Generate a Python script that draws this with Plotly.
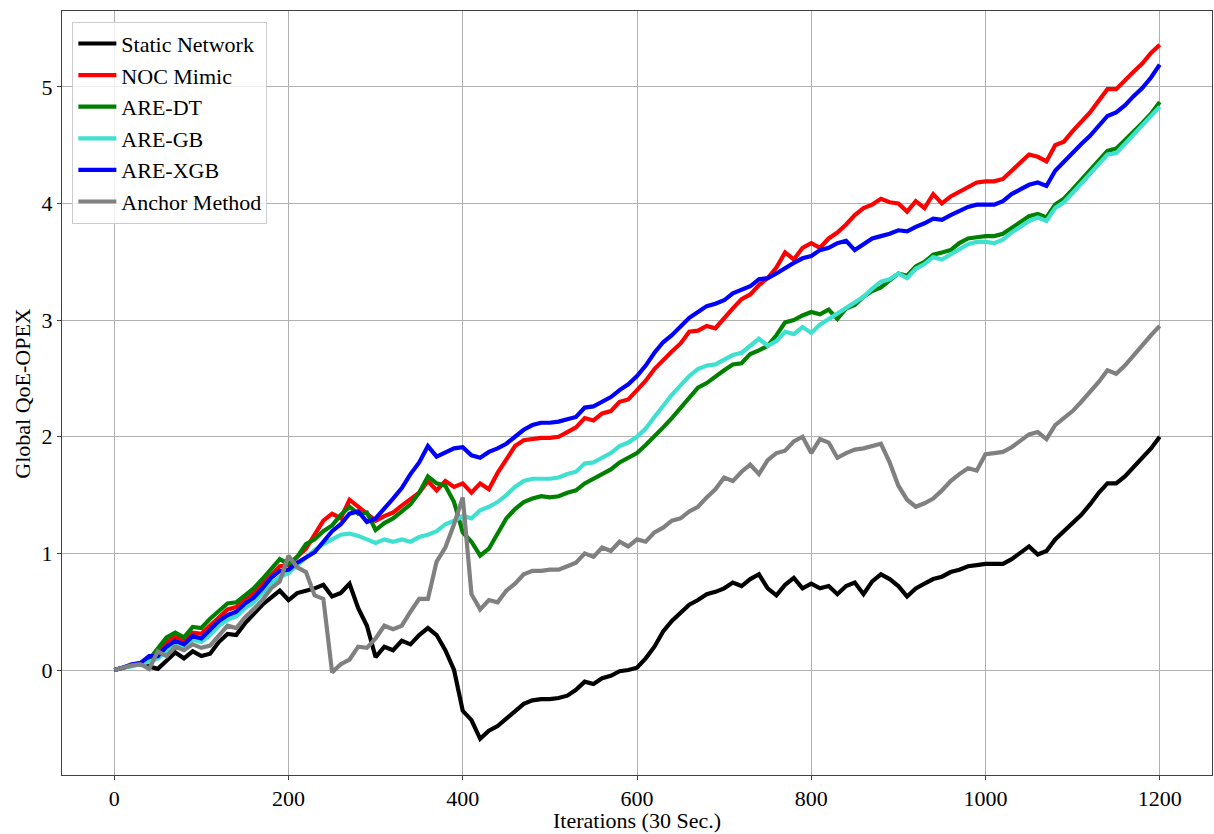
import plotly.graph_objects as go

iterations = list(range(0, 1201, 10))

static_network = [
    0, 0.02, 0.04, 0.05, 0.03, 0.01, 0.08, 0.15, 0.10, 0.16,
    0.12, 0.14, 0.24, 0.31, 0.30, 0.40, 0.48, 0.56, 0.62, 0.68,
    0.60, 0.66, 0.68, 0.70, 0.73, 0.63, 0.66, 0.74, 0.53, 0.38,
    0.11, 0.20, 0.17, 0.25, 0.22, 0.30, 0.36, 0.30, 0.17, 0.00,
    -0.35, -0.43, -0.59, -0.52, -0.48, -0.42, -0.35, -0.29, -0.26, -0.25,
    -0.25, -0.24, -0.22, -0.17, -0.10, -0.12, -0.07, -0.05, -0.01, 0.00,
    0.02, 0.10, 0.20, 0.33, 0.42, 0.49, 0.56, 0.60, 0.65, 0.67,
    0.70, 0.75, 0.72, 0.78, 0.82, 0.70, 0.64, 0.73, 0.79, 0.70,
    0.74, 0.70, 0.72, 0.65, 0.72, 0.75, 0.65, 0.76, 0.82, 0.78,
    0.72, 0.63, 0.70, 0.74, 0.78, 0.80, 0.84, 0.86, 0.89, 0.90,
    0.91, 0.91, 0.91, 0.95, 1.00, 1.06, 0.99, 1.02, 1.12, 1.19,
    1.25, 1.33, 1.42, 1.52, 1.60, 1.60, 1.66, 1.74, 1.82, 1.90,
    2.00,
]

noc_mimic = [
    0, 0.02, 0.04, 0.06, 0.09, 0.14, 0.24, 0.29, 0.25, 0.32,
    0.31, 0.38, 0.45, 0.52, 0.54, 0.61, 0.66, 0.74, 0.82, 0.89,
    0.90, 0.97, 1.04, 1.16, 1.28, 1.34, 1.30, 1.46, 1.40, 1.35,
    1.28, 1.32, 1.35, 1.41, 1.46, 1.52, 1.62, 1.54, 1.62, 1.57,
    1.60, 1.52, 1.60, 1.55, 1.69, 1.80, 1.92, 1.97, 1.98, 1.99,
    1.99, 2.00, 2.04, 2.08, 2.16, 2.14, 2.20, 2.22, 2.30, 2.32,
    2.40, 2.48, 2.58, 2.66, 2.73, 2.80, 2.90, 2.91, 2.95, 2.93,
    3.02, 3.10, 3.18, 3.22, 3.30, 3.36, 3.45, 3.58, 3.52, 3.62,
    3.66, 3.62, 3.70, 3.75, 3.82, 3.90, 3.96, 3.99, 4.04, 4.01,
    4.00, 3.93, 4.02, 3.96, 4.08, 4.00, 4.06, 4.10, 4.15, 4.18,
    4.19, 4.19, 4.21, 4.28, 4.34, 4.42, 4.40, 4.36, 4.50, 4.53,
    4.62, 4.70, 4.78, 4.88, 4.98, 4.98, 5.06, 5.13, 5.20, 5.29,
    5.36,
]

are_dt = [
    0, 0.02, 0.04, 0.06, 0.09, 0.18, 0.28, 0.32, 0.28, 0.37,
    0.36, 0.44, 0.50, 0.57, 0.58, 0.64, 0.70, 0.78, 0.87, 0.95,
    0.91, 0.97, 1.08, 1.12, 1.19, 1.24, 1.33, 1.40, 1.34, 1.35,
    1.20, 1.26, 1.30, 1.36, 1.42, 1.52, 1.66, 1.60, 1.58, 1.44,
    1.18, 1.10, 0.98, 1.04, 1.17, 1.30, 1.38, 1.44, 1.47, 1.49,
    1.48, 1.49, 1.52, 1.54, 1.60, 1.64, 1.68, 1.72, 1.78, 1.82,
    1.86, 1.93, 2.00, 2.08, 2.16, 2.25, 2.34, 2.42, 2.46, 2.52,
    2.57, 2.62, 2.63, 2.71, 2.74, 2.78, 2.87, 2.98, 3.00, 3.04,
    3.07, 3.05, 3.09, 3.01, 3.10, 3.13, 3.20, 3.25, 3.28, 3.34,
    3.40, 3.38, 3.46, 3.50, 3.56, 3.58, 3.60, 3.66, 3.70, 3.71,
    3.72, 3.72, 3.74, 3.79, 3.84, 3.89, 3.91, 3.88, 3.99, 4.04,
    4.12, 4.20, 4.29, 4.37, 4.45, 4.47, 4.54, 4.62, 4.69, 4.77,
    4.87,
]

are_gb = [
    0, 0.02, 0.03, 0.05, 0.07, 0.10, 0.16, 0.22, 0.20, 0.26,
    0.24, 0.30, 0.38, 0.43, 0.46, 0.53, 0.58, 0.66, 0.74, 0.80,
    0.83, 0.90, 0.97, 1.03, 1.08, 1.12, 1.16, 1.17, 1.15, 1.12,
    1.09, 1.12, 1.10, 1.12, 1.10, 1.14, 1.16, 1.19, 1.25, 1.28,
    1.32, 1.30, 1.37, 1.40, 1.44, 1.50, 1.57, 1.62, 1.64, 1.64,
    1.64, 1.65, 1.68, 1.70, 1.77, 1.78, 1.82, 1.86, 1.92, 1.95,
    2.00, 2.07, 2.17, 2.27, 2.36, 2.44, 2.52, 2.58, 2.61, 2.62,
    2.66, 2.70, 2.72, 2.78, 2.84, 2.78, 2.82, 2.90, 2.88, 2.94,
    2.89, 2.96, 3.01, 3.06, 3.10, 3.16, 3.20, 3.27, 3.33, 3.35,
    3.40, 3.36, 3.44, 3.48, 3.54, 3.52, 3.56, 3.61, 3.65, 3.67,
    3.67, 3.66, 3.69, 3.75, 3.80, 3.85, 3.88, 3.85, 3.96, 4.01,
    4.09, 4.17, 4.25, 4.33, 4.42, 4.43, 4.51, 4.60, 4.67, 4.75,
    4.83,
]

are_xgb = [
    0, 0.02, 0.05, 0.06, 0.12, 0.12, 0.20, 0.25, 0.22, 0.29,
    0.27, 0.34, 0.42, 0.47, 0.50, 0.57, 0.62, 0.70, 0.79, 0.85,
    0.86, 0.92, 0.96, 1.01, 1.10, 1.19, 1.25, 1.34, 1.36, 1.27,
    1.30, 1.38, 1.47, 1.56, 1.68, 1.78, 1.92, 1.83, 1.87, 1.90,
    1.91, 1.84, 1.82, 1.87, 1.90, 1.94, 2.00, 2.06, 2.10, 2.12,
    2.12, 2.13, 2.15, 2.17, 2.25, 2.26, 2.30, 2.34, 2.40, 2.45,
    2.52, 2.61, 2.72, 2.81, 2.87, 2.94, 3.02, 3.07, 3.12, 3.14,
    3.17, 3.23, 3.26, 3.29, 3.35, 3.36, 3.40, 3.45, 3.49, 3.53,
    3.55, 3.60, 3.62, 3.66, 3.68, 3.60, 3.65, 3.70, 3.72, 3.74,
    3.77, 3.76, 3.80, 3.83, 3.87, 3.86, 3.90, 3.94, 3.97, 3.99,
    3.99, 3.99, 4.02, 4.08, 4.12, 4.16, 4.18, 4.15, 4.28, 4.36,
    4.43, 4.51, 4.58, 4.66, 4.75, 4.78, 4.84, 4.92, 4.99, 5.08,
    5.19,
]

anchor_method = [
    0, 0.02, 0.04, 0.05, 0.01, 0.16, 0.12, 0.20, 0.17, 0.22,
    0.19, 0.21, 0.30, 0.38, 0.36, 0.45, 0.52, 0.60, 0.70, 0.76,
    0.98, 0.88, 0.84, 0.64, 0.61, -0.02, 0.05, 0.09, 0.20, 0.19,
    0.27, 0.38, 0.35, 0.38, 0.50, 0.61, 0.61, 0.93, 1.05, 1.25,
    1.48, 0.65, 0.52, 0.60, 0.58, 0.68, 0.74, 0.82, 0.85, 0.85,
    0.86, 0.86, 0.89, 0.92, 1.00, 0.97, 1.05, 1.02, 1.10, 1.06,
    1.12, 1.10, 1.18, 1.22, 1.28, 1.30, 1.36, 1.40, 1.48, 1.55,
    1.65, 1.62, 1.70, 1.76, 1.68, 1.80, 1.86, 1.88, 1.96, 2.00,
    1.86, 1.98, 1.95, 1.82, 1.86, 1.89, 1.90, 1.92, 1.94, 1.78,
    1.58, 1.46, 1.40, 1.43, 1.47, 1.54, 1.62, 1.68, 1.73, 1.71,
    1.85, 1.86, 1.87, 1.91, 1.96, 2.02, 2.04, 1.98, 2.10, 2.16,
    2.22, 2.30, 2.38, 2.47, 2.57, 2.54, 2.61, 2.70, 2.78, 2.87,
    2.95,
]

series_names = ["Static Network", "NOC Mimic", "ARE-DT", "ARE-GB", "ARE-XGB", "Anchor Method"]
series_values = [static_network, noc_mimic, are_dt, are_gb, are_xgb, anchor_method]
series_colors = ["#000000", "#ff0000", "#008000", "#40e0d0", "#0000ff", "#808080"]

x_ticks = [0, 200, 400, 600, 800, 1000, 1200]
y_ticks = [0, 1, 2, 3, 4, 5]
x_title = "Iterations (30 Sec.)"
y_title = "Global QoE-OPEX"

FONT = "Liberation Serif, Times New Roman, serif"

fig = go.Figure()
for name, vals, col in zip(series_names, series_values, series_colors):
    fig.add_trace(go.Scatter(
        x=iterations, y=vals, mode="lines", name=name,
        line=dict(color=col, width=4.2),
    ))

axis_common = dict(
    showgrid=True, gridcolor="#b0b0b0", gridwidth=1,
    showline=True, linecolor="#404040", linewidth=1, mirror=True,
    ticks="outside", ticklen=4, tickwidth=1, tickcolor="#404040",
    zeroline=False, automargin=False,
    tickfont=dict(family=FONT, size=22, color="black"),
)

fig.update_layout(
    width=1214, height=834,
    margin=dict(l=62, r=2, t=11, b=59),
    paper_bgcolor="white", plot_bgcolor="white",
    font=dict(family=FONT, size=22, color="black"),
    xaxis=dict(range=[-60, 1260], tickvals=x_ticks, **axis_common),
    yaxis=dict(range=[-0.9, 5.65], tickvals=y_ticks, **axis_common),
    legend=dict(
        x=0.009, y=0.986, xanchor="left", yanchor="top",
        bgcolor="rgba(255,255,255,0.8)", bordercolor="#cccccc", borderwidth=1,
        font=dict(family=FONT, size=22, color="black"),
        tracegroupgap=0, itemwidth=38,
    ),
    annotations=[
        dict(text=x_title, xref="paper", yref="paper", x=0.5, y=-0.059,
             xanchor="center", yanchor="middle", showarrow=False,
             font=dict(family=FONT, size=22, color="black")),
        dict(text=y_title, xref="paper", yref="paper", x=-0.035, y=0.5,
             xanchor="center", yanchor="middle", showarrow=False, textangle=-90,
             font=dict(family=FONT, size=22, color="black")),
    ],
)

fig.write_html("out.html")
